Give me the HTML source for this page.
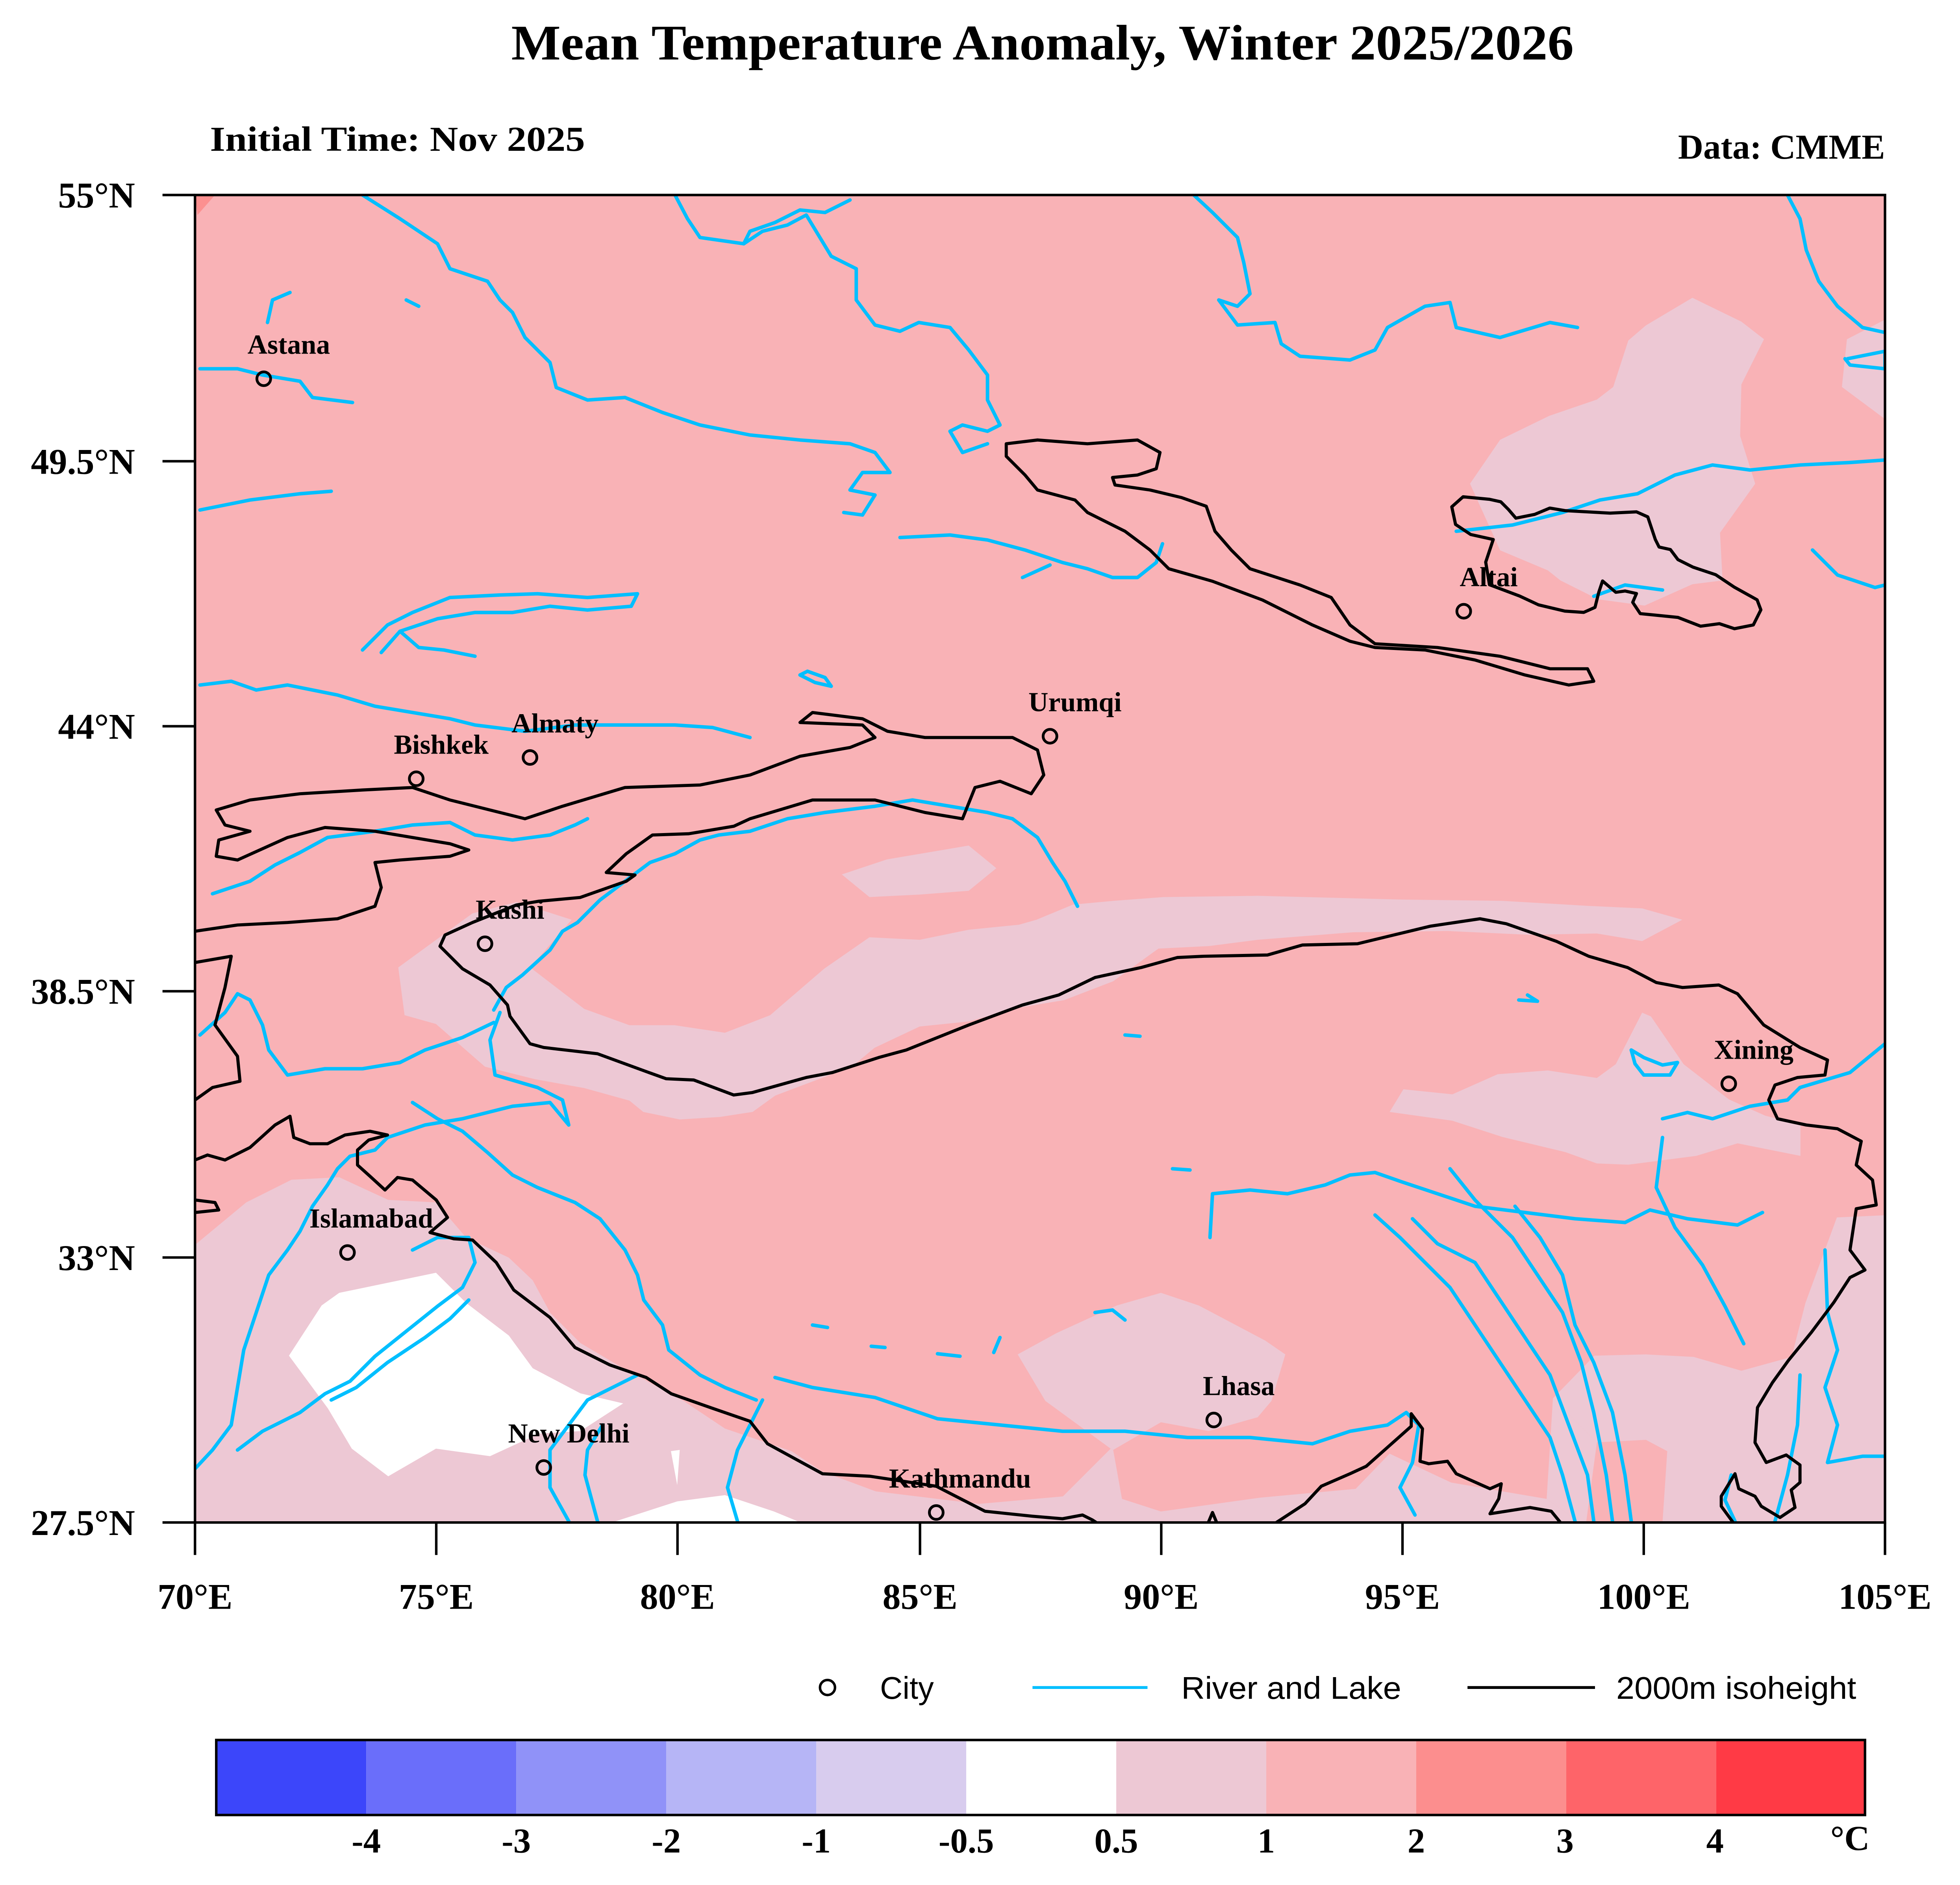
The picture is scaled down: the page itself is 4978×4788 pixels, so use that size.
<!DOCTYPE html>
<html><head><meta charset="utf-8"><style>
html,body{margin:0;padding:0;background:#fff}
svg{display:block}
.t{font-family:"Liberation Serif",serif;font-weight:bold;fill:#000}
.s{font-family:"Liberation Sans",sans-serif;fill:#000}
.riv{fill:none;stroke:#00BFFF;stroke-width:2.8;stroke-linejoin:round;stroke-linecap:round}
.con{fill:none;stroke:#000;stroke-width:2.5;stroke-linejoin:round}
</style></head><body>
<svg width="4978" height="4788" viewBox="0 0 1568 1508" preserveAspectRatio="none" xmlns="http://www.w3.org/2000/svg">
<defs><clipPath id="mc"><rect x="156" y="156" width="1352" height="1062"/></clipPath></defs>
<rect width="1568" height="1508" fill="#fff"/>
<text class="t" x="834" y="47.6" font-size="40" text-anchor="middle" textLength="850" lengthAdjust="spacingAndGlyphs">Mean Temperature Anomaly, Winter 2025/2026</text>
<text class="t" x="168" y="120.6" font-size="28" textLength="300" lengthAdjust="spacingAndGlyphs">Initial Time: Nov 2025</text>
<text class="t" x="1508" y="127" font-size="28" text-anchor="end">Data: CMME</text>

<g clip-path="url(#mc)">
<rect x="156" y="156" width="1352" height="1062" fill="#F9B2B6"/>
<polygon points="156,156 172,156 158,172" fill="#FC9090"/>
<g transform="scale(1.00513)" fill="#EDC8D4">
<polygon points="155,991 196,957 232,939 270,937 309,955 347,957 371,985 405,1001 424,1019 438,1045 462,1069 496,1089 544,1115 577,1137 630,1155 654,1171 697,1187 779,1197 846,1191 884,1153 886,1154 893,1193 924,1203 1003,1192 1079,1185 1106,1157 1155,1180 1231,1193 1262,1215 155,1215"/>
<polygon points="810,1078 841,1061 889,1039 924,1029 954,1039 1007,1067 1023,1078 1012,1115 1001,1128 962,1139 924,1132 886,1154 884,1153 832,1115"/>
<polygon points="1236,1113 1269,1079 1310,1078 1348,1080 1386,1091 1426,1080 1437,1037 1462,969 1505,967 1505,1215 1323,1215 1327,1155 1310,1146 1271,1148"/>
<polygon points="1231,1193 1236,1113 1271,1148 1262,1215"/>
<polygon points="317,770 376,727 411,718 455,732 422,770 465,803 501,816 537,816 577,822 613,808 656,771 692,746 732,748 771,740 811,736 825,732 854,720 886,717 926,714 1001,713 1117,716 1196,717 1264,721 1307,723 1339,732 1307,749 1271,743 1217,744 1152,741 1077,742 1001,748 962,753 922,755 886,781 847,796 811,802 771,813 732,817 696,834 678,849 617,872 599,885 573,889 541,891 512,885 501,876 465,866 426,859 386,849 347,815 322,808"/>
<polygon points="670,696 706,684 771,673 793,691 771,709 732,712 692,714"/>
<polygon points="1106,885 1117,867 1156,871 1192,855 1232,852 1271,858 1286,847 1307,806 1314,809 1340,847 1376,875 1405,888 1433,895 1433,920 1383,910 1350,920 1296,927 1271,926 1246,917 1196,905 1156,892"/>
<polygon points="1347,237 1386,256 1404,270 1386,306 1385,347 1397,385 1369,424 1371,462 1347,465 1309,482 1272,477 1242,462 1232,454 1194,438 1170,385 1194,350 1233,331 1271,318 1284,308 1296,271 1310,259"/>
<polygon points="1505,252 1470,270 1466,308 1505,337"/>
</g>
<g transform="scale(1.00513)" fill="#fff">
<polygon points="270,1029 347,1013 371,1037 405,1063 424,1089 462,1109 496,1117 462,1139 429,1141 390,1159 347,1153 309,1175 280,1153 261,1121 230,1079 256,1039"/>
<polygon points="477,1215 539,1195 577,1190 616,1203 645,1215"/>
<polygon points="534,1155 541,1154 539,1182"/>
</g>

<g class="riv">
<polyline points="290,156 320,175 350,195 360,215 390,225 400,240 410,250 420,270 440,290 445,310 470,320 500,318 530,330 560,340 600,348 640,352 680,355 700,362 712,378 690,378 680,392 700,396 690,412 675,410"/>
<polyline points="160,408 200,400 240,395 265,393"/>
<polyline points="540,156 550,175 560,190 595,195 610,185 630,180 645,172 665,205 685,215 685,240 700,260 720,265 735,258 760,262 775,280 790,300 790,320 800,340 790,345 770,340 760,345 770,362 790,355"/>
<polyline points="595,195 600,185 620,178 640,168 660,170 680,160"/>
<polyline points="955,156 970,170 990,190 995,210 1000,235 990,245 975,240 990,260 1020,258 1025,275 1040,285 1080,288 1100,280 1110,262 1140,245 1160,242 1165,262 1200,270 1240,258 1262,262"/>
<polyline points="1430,156 1440,175 1445,200 1455,225 1470,245 1490,262 1508,266"/>
<polyline points="1478,287 1508,281 1508,295 1480,292 1476,287"/>
<polyline points="290,520 310,500 330,490 360,478 400,476 430,475 470,478 510,475 505,485 470,488 440,485 410,490 380,490 350,495 320,505 305,522"/>
<polyline points="320,505 335,518 355,520 380,525"/>
<polyline points="1165,425 1210,420 1250,410 1280,400 1310,395 1340,380 1370,372 1400,376 1440,372 1480,370 1508,368"/>
<polyline points="1275,477 1300,468 1330,472"/>
<polyline points="395,808 405,790 418,780 440,760 450,745 462,738 480,720 500,705 520,690 540,683 560,672 575,668 600,665 630,655 660,650 700,645 730,640 760,645 790,650 810,655 830,670 842,690 852,705 862,725"/>
<polyline points="160,548 185,545 205,552 230,548 270,556 300,565 330,570 360,575 380,580 420,585 460,580 500,580 540,580 570,582 600,590"/>
<polyline points="170,715 200,705 220,692 240,682 262,670 300,665 330,660 360,658 380,668 410,672 440,668 460,660 470,655"/>
<polyline points="160,828 180,810 190,795 200,800 210,820 215,840 230,860 260,855 290,855 320,850 340,840 370,830 395,818"/>
<polyline points="400,810 392,832 396,860 430,870 450,880 455,900 440,882 410,885 370,895 340,900 310,910 300,920 280,925 270,935 262,948 250,965 240,985 230,1000 215,1020 205,1050 195,1080 190,1110 185,1140 170,1160 156,1175"/>
<polyline points="330,882 350,895 370,905 390,922 410,940 430,950 460,962 480,975 500,1000 510,1020 515,1040 530,1060 535,1080 560,1100 580,1110 605,1120"/>
<polyline points="330,1000 350,990 375,990 380,1010 370,1030 350,1045 325,1065 300,1085 280,1105 260,1115 240,1130 210,1145 190,1160"/>
<polyline points="375,1040 360,1055 340,1070 310,1090 285,1110 265,1120"/>
<polyline points="455,1217 440,1190 440,1160 455,1140 470,1120 490,1110 510,1100"/>
<polyline points="478,1217 468,1180 470,1160 482,1140"/>
<polyline points="590,1217 582,1190 590,1160 600,1140 610,1120"/>
<polyline points="620,1102 650,1110 700,1118 750,1135 800,1140 850,1145 900,1145 950,1150 1000,1150 1050,1155 1080,1145 1110,1140 1125,1130 1135,1140 1130,1170 1120,1190 1132,1212"/>
<polyline points="1100,972 1120,990 1140,1010 1160,1030 1180,1060 1200,1090 1220,1120 1240,1150 1250,1180 1260,1217"/>
<polyline points="1130,975 1150,995 1180,1010 1200,1040 1220,1070 1240,1100 1255,1140 1270,1180 1275,1217"/>
<polyline points="1160,935 1180,960 1210,990 1230,1020 1250,1050 1265,1090 1275,1130 1285,1180 1290,1217"/>
<polyline points="1212,965 1232,990 1250,1020 1260,1060 1275,1090 1290,1130 1300,1180 1305,1217"/>
<polyline points="1330,895 1350,890 1370,895 1400,885 1430,880 1440,870 1480,858 1508,835"/>
<polyline points="968,990 970,955 1000,952 1030,955 1060,948 1080,940 1100,938 1120,945 1150,955 1180,965 1220,970 1260,975 1300,978 1320,968 1350,975 1390,980 1410,970"/>
<polygon points="1305,840 1315,846 1330,852 1342,850 1336,860 1315,860 1308,851"/>
<polyline points="1330,910 1325,950 1340,982 1362,1012 1380,1045 1395,1075"/>
<polyline points="1460,1000 1462,1050 1470,1080 1460,1110 1470,1140 1462,1170 1490,1165 1508,1165"/>
<polyline points="1440,1100 1438,1140 1430,1180 1420,1217"/>
<polyline points="1385,1180 1380,1200 1388,1217"/>
<polygon points="640,540 652,546 665,549 660,542 646,537"/>
<polyline points="900,828 912,829"/>
<polyline points="938,935 952,936"/>
<polyline points="1215,800 1230,801 1222,796"/>
<polyline points="876,1050 890,1048 900,1056"/>
<polyline points="650,1060 662,1062"/>
<polyline points="697,1077 708,1078"/>
<polyline points="750,1083 768,1085"/>
<polyline points="795,1082 800,1070"/>
<polyline points="160,295 190,295 210,300 240,305 250,318 282,322"/>
<polyline points="214,258 218,240 232,234"/>
<polyline points="325,240 335,245"/>
<polyline points="720,430 760,428 790,432 820,440 850,450 870,455 890,462 910,462 925,450 930,435"/>
<polyline points="818,462 840,452"/>
<polyline points="1450,440 1470,460 1500,470 1508,468"/>
</g>

<g class="con">
<path d="M805,355 L830,352 870,355 910,352 928,362 925,375 910,380 890,382 892,388 920,392 945,398 965,405 972,425 985,440 1000,455 1040,468 1065,478 1080,500 1100,515 1150,518 1200,525 1240,535 1270,535 1275,545 1255,548 1220,540 1180,528 1140,520 1100,518 1080,513 1050,500 1010,480 970,465 935,455 920,440 900,425 870,410 860,400 830,392 820,380 805,365 Z"/>
<g transform="scale(1.00513)"><path d="M1155.5,403.4 L1164.5,395.4 1185.5,397.4 1194.5,399.4 1200.5,405.4 1206.5,412.4 1221.5,409.4 1233.5,404.4 1245.5,406.4 1281.5,408.4 1302.5,407.4 1311.5,411.4 1317.5,429.4 1320.5,435.4 1329.5,437.4 1335.5,445.4 1347.5,451.4 1365.5,457.4 1380.5,467.4 1398.5,477.4 1401.5,485.4 1395.5,497.4 1380.5,500.4 1368.5,496.4 1353.5,498.4 1335.5,491.4 1305.5,488.4 1299.5,479.4 1302.5,472.4 1293.5,470.4 1286,471.4 1275.5,462.4 1272.5,471.4 1269.5,483.4 1260.5,487.4 1245.5,486.4 1224.5,481.4 1209.5,474.4 1185.5,465.4 1182.5,447.4 1188.5,429.4 1170.5,425.4 1158.5,417.4 Z"/></g>
<polyline points="156,745 190,740 230,738 270,735 300,725 305,710 300,690 320,688 360,685 375,680 360,675 330,670 300,665 260,662 230,670 190,688 173,685 175,672 200,665 180,660 173,648 200,640 240,635 290,632 330,630 360,640 400,650 420,655 450,645 500,630 560,628 600,620 640,605 680,598 700,590 690,580 640,578 650,570 690,575 710,585 740,590 780,590 810,590 830,600 835,620 825,635 800,625 780,630 770,655 740,650 700,640 650,640 600,655 587,661 551,667 522,668 501,683 485,698 508,700 501,705 464,718 431,721 413,724 378,738 356,748 352,757 370,775 392,788 406,804 408,813 424,835 435,838 478,843 519,858 533,863 555,864 587,876 602,874 645,862 666,858 703,846 725,840 775,820 818,804 847,796 876,782 913,774 942,766 963,765 1014,764 1042,756 1086,755 1115,748 1144,741 1184,735 1205,739 1245,753 1271,765 1302,774 1325,786 1346,790 1375,788 1390,795 1411,820 1440,838 1462,848 1460,860 1438,862 1420,868 1415,880 1422,895 1445,900 1470,903 1489,913 1485,932 1498,944 1501,964 1485,967 1480,1000 1492,1016 1480,1022 1467,1042 1449,1066 1431,1088 1418,1106 1406,1126 1404,1154 1413,1170 1429,1164 1440,1172 1440,1186 1433,1192 1436,1206 1424,1214 1409,1205 1404,1197 1391,1191 1388,1179 1377,1197 1377,1205 1388,1220"/>
<polyline points="156,770 185,765 180,790 172,820 190,845 192,865 170,870 156,880"/>
<polyline points="156,960 172,962 175,968 156,970"/>
<polyline points="156,928 166,924 180,928 200,918 220,900 232,893 235,910 248,915 262,915 276,908 296,905 310,908 295,912 286,920 286,932 296,941 308,952 318,942 330,944 349,960 358,974 344,986 363,991 378,992 397,1010 411,1032 440,1054 460,1078 488,1092 517,1102 537,1115 571,1127 600,1137 614,1155 658,1179 696,1181 749,1189 788,1209 826,1213 850,1215 866,1212 874,1216 880,1220"/>
<polyline points="965,1222 970,1210 975,1222"/>
<polyline points="1018,1220 1044,1203 1057,1189 1080,1179 1093,1173 1111,1157 1129,1141 1129,1131 1138,1143 1136,1169 1143,1171 1158,1169 1165,1179 1192,1191 1201,1187 1199,1199 1192,1211 1224,1206 1241,1209 1250,1220"/>
</g>
</g>

<rect x="156" y="156" width="1352" height="1062" fill="none" stroke="#000" stroke-width="2"/>
<g stroke="#000" stroke-width="2">
<line x1="130" y1="156" x2="156" y2="156"/><line x1="130" y1="369" x2="156" y2="369"/><line x1="130" y1="581" x2="156" y2="581"/><line x1="130" y1="793" x2="156" y2="793"/><line x1="130" y1="1006" x2="156" y2="1006"/><line x1="130" y1="1218" x2="156" y2="1218"/>
<line x1="156" y1="1218" x2="156" y2="1244"/><line x1="349" y1="1218" x2="349" y2="1244"/><line x1="542" y1="1218" x2="542" y2="1244"/><line x1="736" y1="1218" x2="736" y2="1244"/><line x1="929" y1="1218" x2="929" y2="1244"/><line x1="1122" y1="1218" x2="1122" y2="1244"/><line x1="1315" y1="1218" x2="1315" y2="1244"/><line x1="1508" y1="1218" x2="1508" y2="1244"/>
</g>
<g class="t" font-size="29" text-anchor="end">
<text x="108" y="166">55°N</text><text x="108" y="379">49.5°N</text><text x="108" y="591">44°N</text><text x="108" y="803">38.5°N</text><text x="108" y="1016">33°N</text><text x="108" y="1228">27.5°N</text>
</g>
<g class="t" font-size="29" text-anchor="middle">
<text x="156" y="1287">70°E</text><text x="349" y="1287">75°E</text><text x="542" y="1287">80°E</text><text x="736" y="1287">85°E</text><text x="929" y="1287">90°E</text><text x="1122" y="1287">95°E</text><text x="1315" y="1287">100°E</text><text x="1508" y="1287">105°E</text>
</g>

<g fill="none" stroke="#000" stroke-width="2.2">
<circle cx="211" cy="303" r="5.5"/><circle cx="333" cy="623" r="5.5"/><circle cx="424" cy="606" r="5.5"/><circle cx="840" cy="589" r="5.5"/><circle cx="1171" cy="489" r="5.5"/><circle cx="388" cy="755" r="5.5"/><circle cx="1383" cy="867" r="5.5"/><circle cx="278" cy="1002" r="5.5"/><circle cx="435" cy="1174" r="5.5"/><circle cx="749" cy="1210" r="5.5"/><circle cx="971" cy="1136" r="5.5"/>
</g>
<g class="t" font-size="22" text-anchor="middle">
<text x="231" y="283">Astana</text><text x="353" y="603">Bishkek</text><text x="444" y="586">Almaty</text><text x="860" y="569">Urumqi</text><text x="1191" y="469">Altai</text><text x="408" y="735">Kashi</text><text x="1403" y="847">Xining</text><text x="297" y="982">Islamabad</text><text x="455" y="1154">New Delhi</text><text x="768" y="1190">Kathmandu</text><text x="991" y="1116">Lhasa</text>
</g>

<circle cx="662" cy="1350" r="6" fill="none" stroke="#000" stroke-width="2"/>
<text class="s" x="704" y="1359" font-size="25">City</text>
<line x1="826" y1="1350" x2="918" y2="1350" stroke="#00BFFF" stroke-width="2.3"/>
<text class="s" x="945" y="1359" font-size="25" textLength="176" lengthAdjust="spacingAndGlyphs">River and Lake</text>
<line x1="1174" y1="1350" x2="1276" y2="1350" stroke="#000" stroke-width="2.3"/>
<text class="s" x="1293" y="1359" font-size="25" textLength="192" lengthAdjust="spacingAndGlyphs">2000m isoheight</text>

<g>
<rect x="173" y="1392" width="120" height="60" fill="#3C46FA"/>
<rect x="293" y="1392" width="120" height="60" fill="#6A6EFA"/>
<rect x="413" y="1392" width="120" height="60" fill="#9092F8"/>
<rect x="533" y="1392" width="120" height="60" fill="#B6B5F6"/>
<rect x="653" y="1392" width="120" height="60" fill="#D8CCEE"/>
<rect x="773" y="1392" width="120" height="60" fill="#FFFFFF"/>
<rect x="893" y="1392" width="120" height="60" fill="#EDC8D4"/>
<rect x="1013" y="1392" width="120" height="60" fill="#F9B2B6"/>
<rect x="1133" y="1392" width="120" height="60" fill="#FC8E8E"/>
<rect x="1253" y="1392" width="120" height="60" fill="#FE6469"/>
<rect x="1373" y="1392" width="119" height="60" fill="#FF3A45"/>
<rect x="173" y="1392" width="1319" height="60" fill="none" stroke="#000" stroke-width="2"/>
</g>
<g class="t" font-size="28" text-anchor="middle">
<text x="293" y="1482">-4</text><text x="413" y="1482">-3</text><text x="533" y="1482">-2</text><text x="653" y="1482">-1</text><text x="773" y="1482">-0.5</text><text x="893" y="1482">0.5</text><text x="1013" y="1482">1</text><text x="1133" y="1482">2</text><text x="1252" y="1482">3</text><text x="1372" y="1482">4</text><text x="1480" y="1480">°C</text>
</g>
</svg>
</body></html>
